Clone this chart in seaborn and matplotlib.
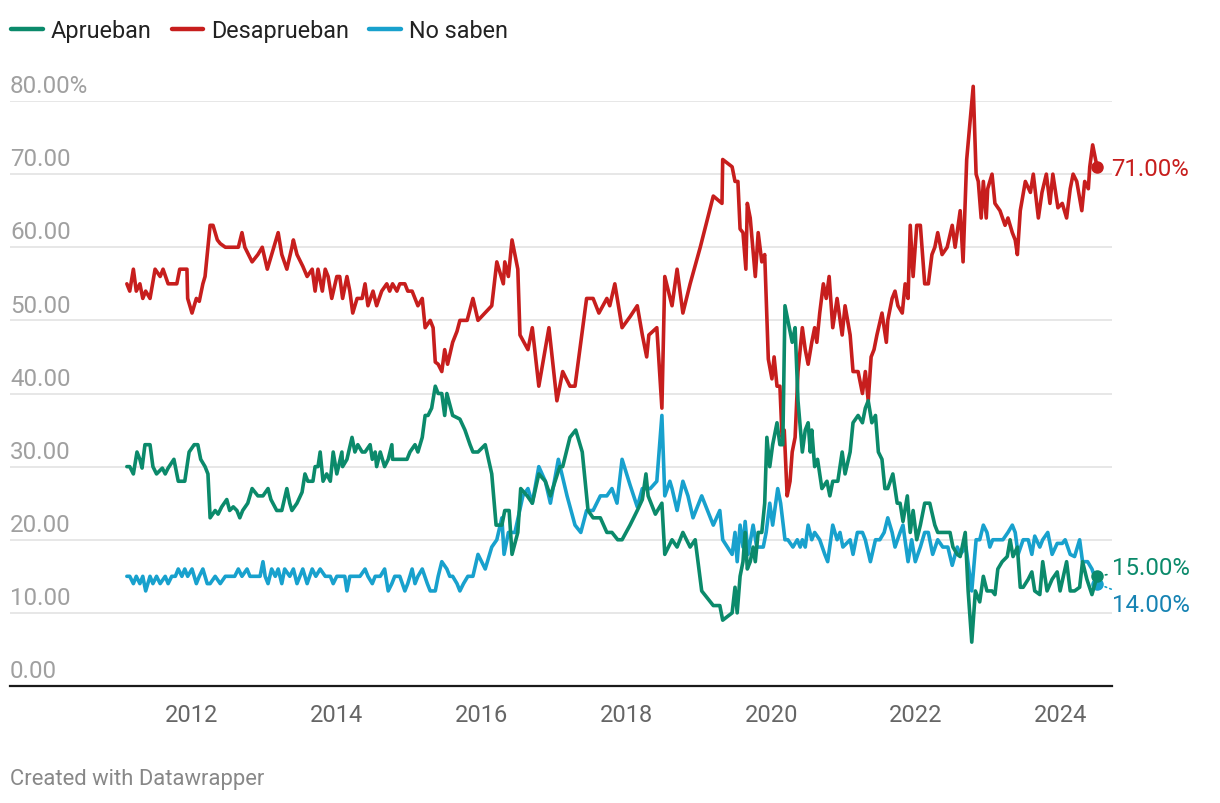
import matplotlib
matplotlib.use("Agg")
import matplotlib.pyplot as plt
import matplotlib.transforms as mtransforms
from matplotlib.lines import Line2D
import pandas as pd
import seaborn as sns

# ---------------- data (decimal years, percent) ----------------
fechas_desaprueban = [
    2011.10, 2011.14, 2011.19, 2011.23, 2011.28, 2011.32, 2011.36, 2011.42, 2011.49, 2011.56,
    2011.60, 2011.67, 2011.79, 2011.83, 2011.93, 2011.94, 2012.00, 2012.06, 2012.10, 2012.15,
    2012.18, 2012.25, 2012.29, 2012.35, 2012.39, 2012.46, 2012.64, 2012.69, 2012.73, 2012.83,
    2012.91, 2012.97, 2013.04, 2013.10, 2013.19, 2013.24, 2013.31, 2013.38, 2013.40, 2013.45,
    2013.53, 2013.59, 2013.66, 2013.70, 2013.74, 2013.80, 2013.84, 2013.88, 2013.93, 2014.00,
    2014.04, 2014.08, 2014.14, 2014.18, 2014.22, 2014.28, 2014.35, 2014.39, 2014.43, 2014.50,
    2014.55, 2014.62, 2014.69, 2014.73, 2014.77, 2014.83, 2014.87, 2014.94, 2014.98, 2015.04,
    2015.08, 2015.12, 2015.18, 2015.22, 2015.29, 2015.33, 2015.36, 2015.40, 2015.45, 2015.49,
    2015.53, 2015.60, 2015.66, 2015.70, 2015.80, 2015.88, 2015.95, 2016.14, 2016.21, 2016.30,
    2016.32, 2016.37, 2016.42, 2016.50, 2016.53, 2016.64, 2016.70, 2016.79, 2016.93, 2017.04,
    2017.12, 2017.22, 2017.29, 2017.45, 2017.54, 2017.62, 2017.73, 2017.77, 2017.84, 2017.94,
    2018.05, 2018.15, 2018.22, 2018.28, 2018.31, 2018.42, 2018.49, 2018.53, 2018.63, 2018.70,
    2018.78, 2018.88, 2019.02, 2019.20, 2019.32, 2019.33, 2019.46, 2019.50, 2019.54, 2019.57,
    2019.61, 2019.65, 2019.67, 2019.71, 2019.78, 2019.82, 2019.87, 2019.91, 2019.96, 2020.01,
    2020.04, 2020.08, 2020.12, 2020.15, 2020.18, 2020.22, 2020.26, 2020.29, 2020.33, 2020.37,
    2020.43, 2020.47, 2020.51, 2020.56, 2020.60, 2020.63, 2020.67, 2020.72, 2020.76, 2020.80,
    2020.85, 2020.91, 2020.98, 2021.02, 2021.09, 2021.13, 2021.20, 2021.26, 2021.30, 2021.34,
    2021.38, 2021.42, 2021.46, 2021.53, 2021.59, 2021.61, 2021.67, 2021.71, 2021.75, 2021.81,
    2021.85, 2021.89, 2021.92, 2021.96, 2022.01, 2022.06, 2022.12, 2022.17, 2022.22, 2022.26,
    2022.30, 2022.36, 2022.43, 2022.50, 2022.54, 2022.61, 2022.65, 2022.70, 2022.79, 2022.83,
    2022.86, 2022.90, 2022.93, 2022.97, 2022.99, 2023.05, 2023.09, 2023.16, 2023.23, 2023.27,
    2023.33, 2023.37, 2023.40, 2023.44, 2023.51, 2023.58, 2023.62, 2023.69, 2023.74, 2023.80,
    2023.85, 2023.89, 2023.96, 2024.02, 2024.08, 2024.13, 2024.17, 2024.22, 2024.29, 2024.33,
    2024.38, 2024.40, 2024.44, 2024.50,
]
desaprueban = [
    55, 54, 57, 54, 55, 53, 54, 53, 57, 56,
    57, 55, 55, 57, 57, 53, 51, 53, 52.6, 55,
    56, 63, 63, 61, 60.5, 60, 60, 62, 60, 58,
    59, 60, 57, 59, 62, 59, 57, 60, 61, 59,
    57.4, 56, 57, 54, 57, 54, 57, 56, 53, 56,
    56, 53, 56, 54, 51, 53, 53, 55, 52, 54,
    52, 54, 55, 54, 55, 54, 55, 55, 54, 54,
    53, 52, 53, 49, 50, 49, 44.3, 44, 43, 46,
    44, 47, 48.5, 50, 50, 53, 50, 52, 58, 55,
    58, 56, 61, 57, 48, 46, 49, 41, 49, 39,
    43, 41, 41, 53, 53, 51, 53, 52, 55, 49,
    50.5, 52, 48, 45, 48, 49, 38, 56, 52, 57,
    51, 55, 60, 67, 66, 72, 71, 69, 69, 62.5,
    62, 57, 66, 64, 56, 62, 58, 59, 44.7, 42,
    45, 41, 41, 34, 35, 26, 28, 32, 34, 43,
    49, 46, 44, 47, 49, 47, 51, 55, 53, 56,
    49, 53, 48, 52, 48, 43, 43, 40, 43, 39,
    45, 46, 48, 51, 47, 50, 53, 54, 52, 51,
    55, 53, 63, 56, 63, 63, 55, 55, 59, 60,
    62, 59, 60, 63, 60, 65, 58, 72, 82, 70,
    69, 64, 69, 64, 68, 70, 66, 65, 63, 64,
    62, 61, 59, 65, 69, 67.5, 70, 64, 67.5, 70,
    66, 70, 65.4, 66, 64, 68, 70, 69, 65, 69,
    68, 71, 74, 71,
]

fechas_aprueban = [
    2011.10, 2011.14, 2011.19, 2011.24, 2011.28, 2011.31, 2011.35, 2011.42, 2011.46, 2011.51,
    2011.59, 2011.63, 2011.67, 2011.75, 2011.81, 2011.90, 2011.96, 2012.03, 2012.08, 2012.12,
    2012.18, 2012.22, 2012.25, 2012.32, 2012.36, 2012.41, 2012.48, 2012.52, 2012.57, 2012.62,
    2012.66, 2012.70, 2012.77, 2012.83, 2012.91, 2012.98, 2013.05, 2013.09, 2013.17, 2013.24,
    2013.31, 2013.35, 2013.38, 2013.45, 2013.52, 2013.56, 2013.60, 2013.67, 2013.70, 2013.74,
    2013.77, 2013.81, 2013.86, 2013.91, 2013.95, 2014.00, 2014.07, 2014.08, 2014.14, 2014.21,
    2014.25, 2014.29, 2014.35, 2014.39, 2014.46, 2014.49, 2014.53, 2014.55, 2014.60, 2014.66,
    2014.71, 2014.76, 2014.77, 2014.83, 2014.97, 2015.01, 2015.08, 2015.12, 2015.18, 2015.22,
    2015.26, 2015.31, 2015.36, 2015.40, 2015.45, 2015.49, 2015.52, 2015.60, 2015.70, 2015.77,
    2015.84, 2015.88, 2015.95, 2016.05, 2016.14, 2016.20, 2016.28, 2016.32, 2016.38, 2016.42,
    2016.50, 2016.54, 2016.63, 2016.70, 2016.79, 2016.88, 2016.95, 2017.08, 2017.12, 2017.22,
    2017.30, 2017.39, 2017.47, 2017.54, 2017.64, 2017.73, 2017.80, 2017.88, 2017.94, 2018.05,
    2018.15, 2018.22, 2018.27, 2018.30, 2018.40, 2018.49, 2018.53, 2018.63, 2018.70, 2018.78,
    2018.88, 2018.95, 2019.04, 2019.20, 2019.29, 2019.33, 2019.46, 2019.50, 2019.53, 2019.57,
    2019.61, 2019.64, 2019.67, 2019.71, 2019.75, 2019.78, 2019.82, 2019.87, 2019.91, 2019.94,
    2019.98, 2020.02, 2020.08, 2020.12, 2020.16, 2020.19, 2020.23, 2020.29, 2020.33, 2020.37,
    2020.43, 2020.47, 2020.51, 2020.54, 2020.56, 2020.60, 2020.64, 2020.70, 2020.77, 2020.81,
    2020.85, 2020.92, 2020.98, 2021.02, 2021.09, 2021.13, 2021.20, 2021.26, 2021.30, 2021.34,
    2021.39, 2021.44, 2021.48, 2021.53, 2021.57, 2021.61, 2021.68, 2021.74, 2021.78, 2021.82,
    2021.88, 2021.92, 2021.96, 2022.01, 2022.06, 2022.12, 2022.19, 2022.26, 2022.30, 2022.40,
    2022.47, 2022.51, 2022.57, 2022.61, 2022.68, 2022.72, 2022.77, 2022.82, 2022.88, 2022.93,
    2022.98, 2023.05, 2023.09, 2023.13, 2023.19, 2023.26, 2023.30, 2023.34, 2023.40, 2023.44,
    2023.48, 2023.55, 2023.60, 2023.64, 2023.71, 2023.75, 2023.81, 2023.88, 2023.95, 2023.99,
    2024.08, 2024.13, 2024.19, 2024.26, 2024.30, 2024.36, 2024.43, 2024.50,
]
aprueban = [
    30, 30, 29, 32, 31, 29.8, 33, 33, 30, 29,
    29.8, 29, 29.8, 31, 28, 28, 32, 33, 33, 31,
    30, 29, 23, 24, 23.5, 24.5, 25.5, 24, 24.5, 24,
    23, 24, 25, 27, 26, 26, 27, 25.5, 24, 24,
    27, 25, 24, 25, 26.5, 29, 28, 28, 30, 30,
    32, 28, 29, 28, 32, 29, 32, 30, 31, 34,
    32, 33, 32, 32, 33, 31, 32, 30, 32, 30,
    31, 33, 31, 31, 31, 32, 33, 32, 34, 37,
    37, 38, 41, 40, 40, 37, 40, 37, 36.5, 35,
    33, 32, 32, 33, 29, 22, 22, 24, 24, 18,
    21, 27, 26, 25, 29, 28, 26, 30, 30, 34,
    35, 32, 24, 23, 23, 21, 21, 20, 20, 22,
    24, 25.5, 29, 26, 23.5, 25, 18, 20, 19, 21,
    19, 20, 13, 11, 11, 9, 10, 13.5, 10, 15,
    17, 21, 16, 17, 19, 17, 21, 21, 25, 34,
    30, 33, 36, 33, 33, 52, 50, 47, 49, 39,
    32, 35, 36, 32, 35, 30, 31, 27, 28, 26,
    28, 28, 32, 29, 32, 36, 37, 36, 38, 39,
    36, 37, 32, 31, 27, 27, 29, 25, 25, 22.5,
    26, 21, 24, 20, 22, 25, 25, 22, 21, 21,
    21, 19, 18, 17.7, 21, 13, 6, 13, 11.5, 15,
    13, 13, 12.5, 16, 17, 17.7, 20, 17.7, 19, 13.5,
    13.5, 14.6, 15.6, 13, 12.5, 17, 13, 14.6, 15.6, 13,
    17, 13, 13, 13.5, 17, 14.6, 12.5, 15,
]

fechas_no_saben = [
    2011.10, 2011.14, 2011.19, 2011.23, 2011.28, 2011.32, 2011.36, 2011.42, 2011.46, 2011.51,
    2011.56, 2011.63, 2011.67, 2011.72, 2011.77, 2011.81, 2011.86, 2011.90, 2011.94, 2012.00,
    2012.06, 2012.10, 2012.15, 2012.21, 2012.25, 2012.32, 2012.39, 2012.46, 2012.52, 2012.59,
    2012.64, 2012.69, 2012.76, 2012.80, 2012.87, 2012.94, 2012.98, 2013.01, 2013.05, 2013.10,
    2013.15, 2013.19, 2013.24, 2013.28, 2013.35, 2013.40, 2013.45, 2013.49, 2013.53, 2013.59,
    2013.66, 2013.71, 2013.77, 2013.84, 2013.91, 2013.95, 2014.00, 2014.04, 2014.11, 2014.14,
    2014.18, 2014.25, 2014.32, 2014.39, 2014.43, 2014.49, 2014.53, 2014.60, 2014.66, 2014.71,
    2014.76, 2014.80, 2014.87, 2014.94, 2014.98, 2015.04, 2015.08, 2015.12, 2015.18, 2015.25,
    2015.29, 2015.36, 2015.40, 2015.45, 2015.52, 2015.56, 2015.60, 2015.66, 2015.70, 2015.75,
    2015.81, 2015.88, 2015.95, 2016.05, 2016.14, 2016.21, 2016.28, 2016.31, 2016.37, 2016.46,
    2016.57, 2016.64, 2016.70, 2016.79, 2016.88, 2016.95, 2017.06, 2017.18, 2017.29, 2017.37,
    2017.45, 2017.54, 2017.64, 2017.73, 2017.80, 2017.87, 2017.94, 2018.05, 2018.15, 2018.22,
    2018.33, 2018.42, 2018.49, 2018.53, 2018.60, 2018.63, 2018.70, 2018.78, 2018.85, 2018.92,
    2019.04, 2019.20, 2019.29, 2019.33, 2019.46, 2019.50, 2019.53, 2019.57, 2019.61, 2019.64,
    2019.68, 2019.75, 2019.80, 2019.89, 2019.93, 2019.98, 2020.02, 2020.09, 2020.13, 2020.19,
    2020.23, 2020.30, 2020.36, 2020.40, 2020.43, 2020.47, 2020.51, 2020.56, 2020.60, 2020.67,
    2020.74, 2020.78, 2020.85, 2020.91, 2020.95, 2020.99, 2021.09, 2021.13, 2021.19, 2021.26,
    2021.30, 2021.37, 2021.44, 2021.50, 2021.56, 2021.61, 2021.67, 2021.71, 2021.78, 2021.82,
    2021.89, 2021.94, 2021.99, 2022.06, 2022.12, 2022.17, 2022.23, 2022.30, 2022.37, 2022.44,
    2022.50, 2022.57, 2022.61, 2022.69, 2022.77, 2022.83, 2022.88, 2022.93, 2022.98, 2023.02,
    2023.06, 2023.13, 2023.20, 2023.27, 2023.33, 2023.37, 2023.41, 2023.48, 2023.55, 2023.60,
    2023.64, 2023.71, 2023.75, 2023.82, 2023.88, 2023.95, 2024.02, 2024.06, 2024.13, 2024.19,
    2024.26, 2024.30, 2024.37, 2024.43, 2024.50,
]
no_saben = [
    15, 15, 14, 15, 14, 15, 13, 15, 14, 15,
    14, 15, 14, 15, 15, 16, 15, 16, 15, 16,
    14, 15, 16, 14, 14, 15, 14, 15, 15, 15,
    16, 15, 16, 15, 15, 15, 17, 15, 14, 16,
    15, 16, 14, 16, 15, 16, 14, 15, 16, 14,
    16, 15, 16, 15, 15, 14, 15, 15, 15, 13,
    15, 15, 15, 16, 15, 14, 15, 15, 16, 13,
    14, 15, 15, 13, 14, 16, 14, 15, 16, 14,
    13, 13, 15, 17, 16, 15, 15, 14, 13, 14,
    15, 15, 18, 16, 19, 20, 23, 18, 21, 21,
    26, 27, 25, 30, 28, 25, 31, 26, 22, 21,
    24, 24, 26, 26, 27, 25, 31, 27.5, 24.5, 27,
    27, 28, 37, 26, 28, 27, 24, 28, 26, 23,
    26, 22, 24, 20, 18, 21, 17, 22, 19, 22.5,
    18, 22, 19, 19, 21, 25, 22, 27, 25, 20,
    20, 19, 20, 19, 20, 19, 22, 20, 21, 20,
    18, 17, 22, 20, 21, 19, 20, 18, 21, 21,
    20, 17, 20, 20, 21, 23, 21, 19, 21, 22,
    17, 20, 17, 19, 21, 21, 18, 20, 19, 19,
    16.5, 19, 18, 19, 13, 20, 20, 22, 21, 19,
    20, 20, 20, 21, 22, 21, 18, 20, 20, 18,
    20.5, 19, 20, 21, 18, 19.5, 19.5, 20, 18, 17.7,
    20, 17, 17, 16, 14,
]

series = ["Aprueban", "Desaprueban", "No saben"]
colores_linea = {"Aprueban": "#0b8a6b", "Desaprueban": "#c71e1d", "No saben": "#18a1cd"}
colores_texto = {"Aprueban": "#0b8a6b", "Desaprueban": "#c71e1d", "No saben": "#1683b3"}
y_ticks = [0, 10, 20, 30, 40, 50, 60, 70, 80]
y_tick_labels = ["0.00", "10.00", "20.00", "30.00", "40.00", "50.00", "60.00", "70.00", "80.00%"]
x_ticks = [2012, 2014, 2016, 2018, 2020, 2022, 2024]
x_tick_labels = ["2012", "2014", "2016", "2018", "2020", "2022", "2024"]
fuente = "Created with Datawrapper"

# ---------------- long table ----------------
datos = {
    "Aprueban": (fechas_aprueban, aprueban),
    "Desaprueban": (fechas_desaprueban, desaprueban),
    "No saben": (fechas_no_saben, no_saben),
}
df = pd.concat(
    [pd.DataFrame({"fecha": f, "valor": v, "serie": s}) for s, (f, v) in datos.items()],
    ignore_index=True,
)

# ---------------- style ----------------
sns.set_style("white")
plt.rcParams["font.family"] = ["Roboto", "DejaVu Sans"]

W, H = 1220, 804
fig = plt.figure(figsize=(W / 100, H / 100), dpi=100)
ax = fig.add_axes([10 / W, 1 - 687 / H, 1102 / W, 585 / H])

sns.lineplot(
    data=df, x="fecha", y="valor", hue="serie", hue_order=series,
    palette=colores_linea, estimator=None, sort=True, linewidth=2.6,
    legend=False, ax=ax,
)
orden = {"Aprueban": 5, "Desaprueban": 4, "No saben": 3}
for line, s in zip(ax.lines, series):
    line.set_zorder(orden[s])
    line.set_clip_on(False)
    line.set_solid_joinstyle("round")
    line.set_solid_capstyle("round")

ax.set_xlim(2009.486, 2024.707)
ax.set_ylim(0, 80)
ax.set_xlabel("")
ax.set_ylabel("")

ax.set_yticks(y_ticks)
ax.yaxis.grid(True, color="#e3e3e3", linewidth=1.2)
ax.xaxis.grid(False)
ax.tick_params(axis="y", left=False, labelleft=False)
ax.set_xticks(x_ticks)
ax.set_xticklabels(x_tick_labels)
ax.tick_params(axis="x", length=0, pad=12, labelsize=17, labelcolor="#666666")
for sp in ["left", "right", "top"]:
    ax.spines[sp].set_visible(False)
ax.spines["bottom"].set_color("#1a1a1a")
ax.spines["bottom"].set_linewidth(1.6)
ax.spines["bottom"].set_zorder(6)

trans = mtransforms.blended_transform_factory(ax.transAxes, ax.transData)
trans = mtransforms.offset_copy(trans, fig=fig, x=0, y=11, units="points")
for v, lab in zip(y_ticks, y_tick_labels):
    ax.text(0, v, lab, transform=trans, ha="left", va="center",
            fontsize=17.4, color="#a0a0a0")

# end points + labels
desplaz = {"Aprueban": 6.5, "Desaprueban": -1, "No saben": -15}
for s in series:
    f, v = datos[s]
    ax.plot([f[-1]], [v[-1]], "o", ms=8, color=colores_linea[s],
            zorder=orden[s] + 1, clip_on=False)
    flecha = None
    if s != "Desaprueban":
        flecha = dict(arrowstyle="-", linestyle=(0, (1, 2)), color=colores_linea[s],
                      lw=1.2, shrinkA=1, shrinkB=5)
    ax.annotate(f"{v[-1]:.2f}%", xy=(f[-1], v[-1]), xytext=(10.5, desplaz[s]),
                textcoords="offset points", ha="left", va="center",
                fontsize=17.3, color=colores_texto[s], arrowprops=flecha,
                annotation_clip=False)

# legend
handles = [Line2D([0], [0], color=colores_linea[s], lw=3.2, solid_capstyle="round")
           for s in series]
fig.legend(handles, series, loc="upper left", bbox_to_anchor=(2 / W, 1 - 11 / H),
           ncol=3, frameon=False, fontsize=16.8, handlelength=1.35,
           handletextpad=0.35, columnspacing=0.85, borderaxespad=0,
           labelcolor="#222222")

fig.text(10 / W, 1 - 780 / H, fuente, ha="left", va="center", fontsize=15.8,
         color="#888888")

fig.savefig("out.png", dpi=100, facecolor="white")
